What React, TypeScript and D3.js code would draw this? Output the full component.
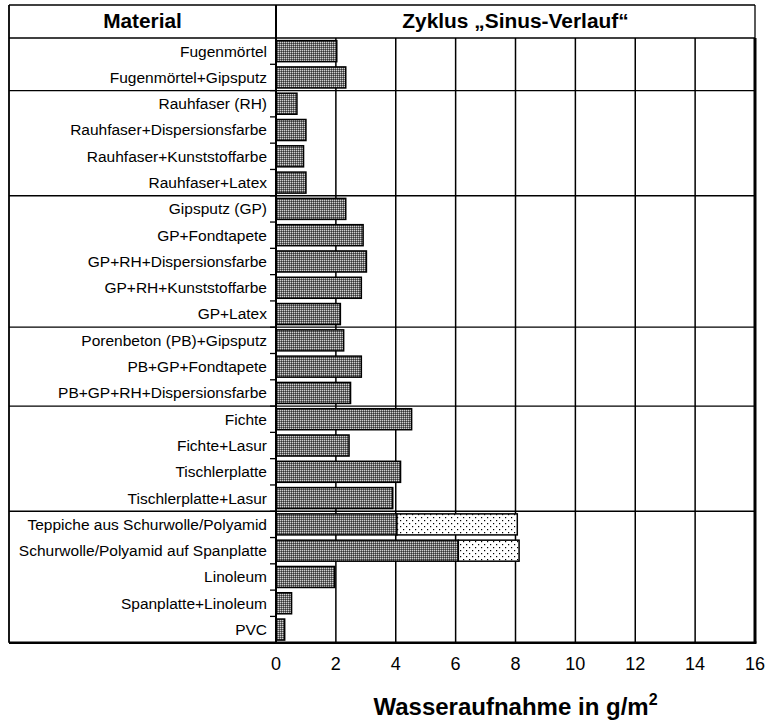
import React from "react";
import * as d3 from "d3";

const categories = [
  "Fugenmörtel",
  "Fugenmörtel+Gipsputz",
  "Rauhfaser (RH)",
  "Rauhfaser+Dispersionsfarbe",
  "Rauhfaser+Kunststoffarbe",
  "Rauhfaser+Latex",
  "Gipsputz (GP)",
  "GP+Fondtapete",
  "GP+RH+Dispersionsfarbe",
  "GP+RH+Kunststoffarbe",
  "GP+Latex",
  "Porenbeton (PB)+Gipsputz",
  "PB+GP+Fondtapete",
  "PB+GP+RH+Dispersionsfarbe",
  "Fichte",
  "Fichte+Lasur",
  "Tischlerplatte",
  "Tischlerplatte+Lasur",
  "Teppiche aus Schurwolle/Polyamid",
  "Schurwolle/Polyamid auf Spanplatte",
  "Linoleum",
  "Spanplatte+Linoleum",
  "PVC",
];

// main value (dark hatched segment)
const baseValues = [
  2.03, 2.33, 0.7, 1.0, 0.92, 1.0, 2.33, 2.91, 3.02, 2.85, 2.15, 2.26, 2.85,
  2.49, 4.53, 2.44, 4.16, 3.9, 4.04, 6.09, 1.96, 0.52, 0.29,
];

// additional value (dotted segment)
const extraValues = [
  0, 0, 0, 0, 0, 0, 0, 0, 0, 0, 0, 0, 0, 0, 0, 0, 0, 0, 4.02, 2.03, 0, 0, 0,
];

// index after which a group separator line is drawn
const groupEnds = [1, 5, 10, 13, 17];

const xTicks = [0, 2, 4, 6, 8, 10, 12, 14, 16];

const headerLeft = "Material";
const headerRight = "Zyklus „Sinus-Verlauf“";
const axisTitle = "Wasseraufnahme in g/m";
const axisTitleSup = "2";

const W = 769;
const H = 724;
const tableLeft = 9;
const tableTop = 5;
const headerBottom = 38;
const plotLeft = 276;
const plotRight = 755;
const plotBottom = 642.7;

const FONT = "'Liberation Sans', Arial, Helvetica, sans-serif";

export default function App() {
  const x = d3.scaleLinear().domain([0, 16]).range([plotLeft, plotRight]);
  const y = d3
    .scaleBand<string>()
    .domain(categories)
    .range([headerBottom, plotBottom])
    .paddingInner(0.2)
    .paddingOuter(0.1);
  const step = y.step();
  const rowTop = (i: number) => headerBottom + i * step;

  return (
    <svg
      width={W}
      height={H}
      style={{ position: "absolute", left: 0, top: 0, background: "#fff" }}
    >
      <defs>
        <pattern id="dark" width="2" height="2" patternUnits="userSpaceOnUse">
          <rect width="2" height="2" fill="#6e6e6e" />
          <rect width="1" height="1" fill="#d0d0d0" />
          <rect x="1" y="1" width="1" height="1" fill="#353535" />
        </pattern>
        <pattern id="dots" width="6" height="6" patternUnits="userSpaceOnUse">
          <rect width="6" height="6" fill="#fff" />
          <rect x="1" y="1" width="1.2" height="1.2" fill="#000" />
          <rect x="4" y="4" width="1.2" height="1.2" fill="#000" />
        </pattern>
      </defs>

      {/* vertical grid lines */}
      {xTicks
        .filter((t) => t > 0 && t < 16)
        .map((t) => (
          <line
            key={"g" + t}
            x1={x(t)}
            x2={x(t)}
            y1={headerBottom}
            y2={plotBottom}
            stroke="#000"
            strokeWidth={1.5}
          />
        ))}

      {/* group separators */}
      {groupEnds.map((gi) => (
        <line
          key={"s" + gi}
          x1={tableLeft}
          x2={plotRight}
          y1={rowTop(gi + 1)}
          y2={rowTop(gi + 1)}
          stroke="#000"
          strokeWidth={1.3}
        />
      ))}

      {/* bars */}
      {categories.map((c, i) => (
        <g key={"b" + i}>
          <rect
            x={x(0)}
            y={y(c)}
            width={x(baseValues[i]) - x(0)}
            height={y.bandwidth()}
            fill="url(#dark)"
            stroke="#000"
            strokeWidth={1.5}
          />
          {extraValues[i] > 0 && (
            <rect
              x={x(baseValues[i])}
              y={y(c)}
              width={x(baseValues[i] + extraValues[i]) - x(baseValues[i])}
              height={y.bandwidth()}
              fill="url(#dots)"
              stroke="#000"
              strokeWidth={1.5}
            />
          )}
        </g>
      ))}

      {/* y ticks between rows */}
      {categories.slice(1).map((c, i) => (
        <line
          key={"t" + i}
          x1={plotLeft - 6}
          x2={plotLeft}
          y1={rowTop(i + 1)}
          y2={rowTop(i + 1)}
          stroke="#000"
          strokeWidth={1.3}
        />
      ))}

      {/* category labels */}
      {categories.map((c) => (
        <text
          key={"l" + c}
          x={plotLeft - 9}
          y={(y(c) as number) + y.bandwidth() / 2}
          dy="0.35em"
          textAnchor="end"
          fontFamily={FONT}
          fontSize={15.5}
          fill="#000"
        >
          {c}
        </text>
      ))}

      {/* table frame */}
      <line x1={tableLeft} x2={plotRight} y1={tableTop} y2={tableTop} stroke="#000" strokeWidth={1.3} />
      <line x1={tableLeft} x2={plotRight} y1={headerBottom} y2={headerBottom} stroke="#000" strokeWidth={1.3} />
      <line x1={tableLeft} x2={tableLeft} y1={tableTop} y2={plotBottom} stroke="#000" strokeWidth={1.8} />
      <line x1={plotRight} x2={plotRight} y1={tableTop} y2={headerBottom} stroke="#000" strokeWidth={1.3} />
      <line x1={plotRight} x2={plotRight} y1={headerBottom} y2={plotBottom} stroke="#000" strokeWidth={3} />
      <line x1={tableLeft} x2={plotRight + 1.5} y1={plotBottom} y2={plotBottom} stroke="#000" strokeWidth={2.5} />
      <line x1={plotLeft} x2={plotLeft} y1={tableTop} y2={plotBottom} stroke="#000" strokeWidth={2} />

      {/* headers */}
      <text
        x={(tableLeft + plotLeft) / 2}
        y={28}
        textAnchor="middle"
        fontFamily={FONT}
        fontWeight="bold"
        fontSize={20.8}
      >
        {headerLeft}
      </text>
      <text
        x={(plotLeft + plotRight) / 2}
        y={28}
        textAnchor="middle"
        fontFamily={FONT}
        fontWeight="bold"
        fontSize={20.9}
      >
        {headerRight}
      </text>

      {/* x tick labels */}
      {xTicks.map((t) => (
        <text
          key={"x" + t}
          x={x(t)}
          y={670}
          textAnchor="middle"
          fontFamily={FONT}
          fontSize={18}
        >
          {t}
        </text>
      ))}

      {/* axis title */}
      <text
        x={(plotLeft + plotRight) / 2}
        y={715}
        textAnchor="middle"
        fontFamily={FONT}
        fontWeight="bold"
        fontSize={24}
      >
        {axisTitle}
        <tspan fontSize={16} dy={-10}>
          {axisTitleSup}
        </tspan>
      </text>
    </svg>
  );
}
